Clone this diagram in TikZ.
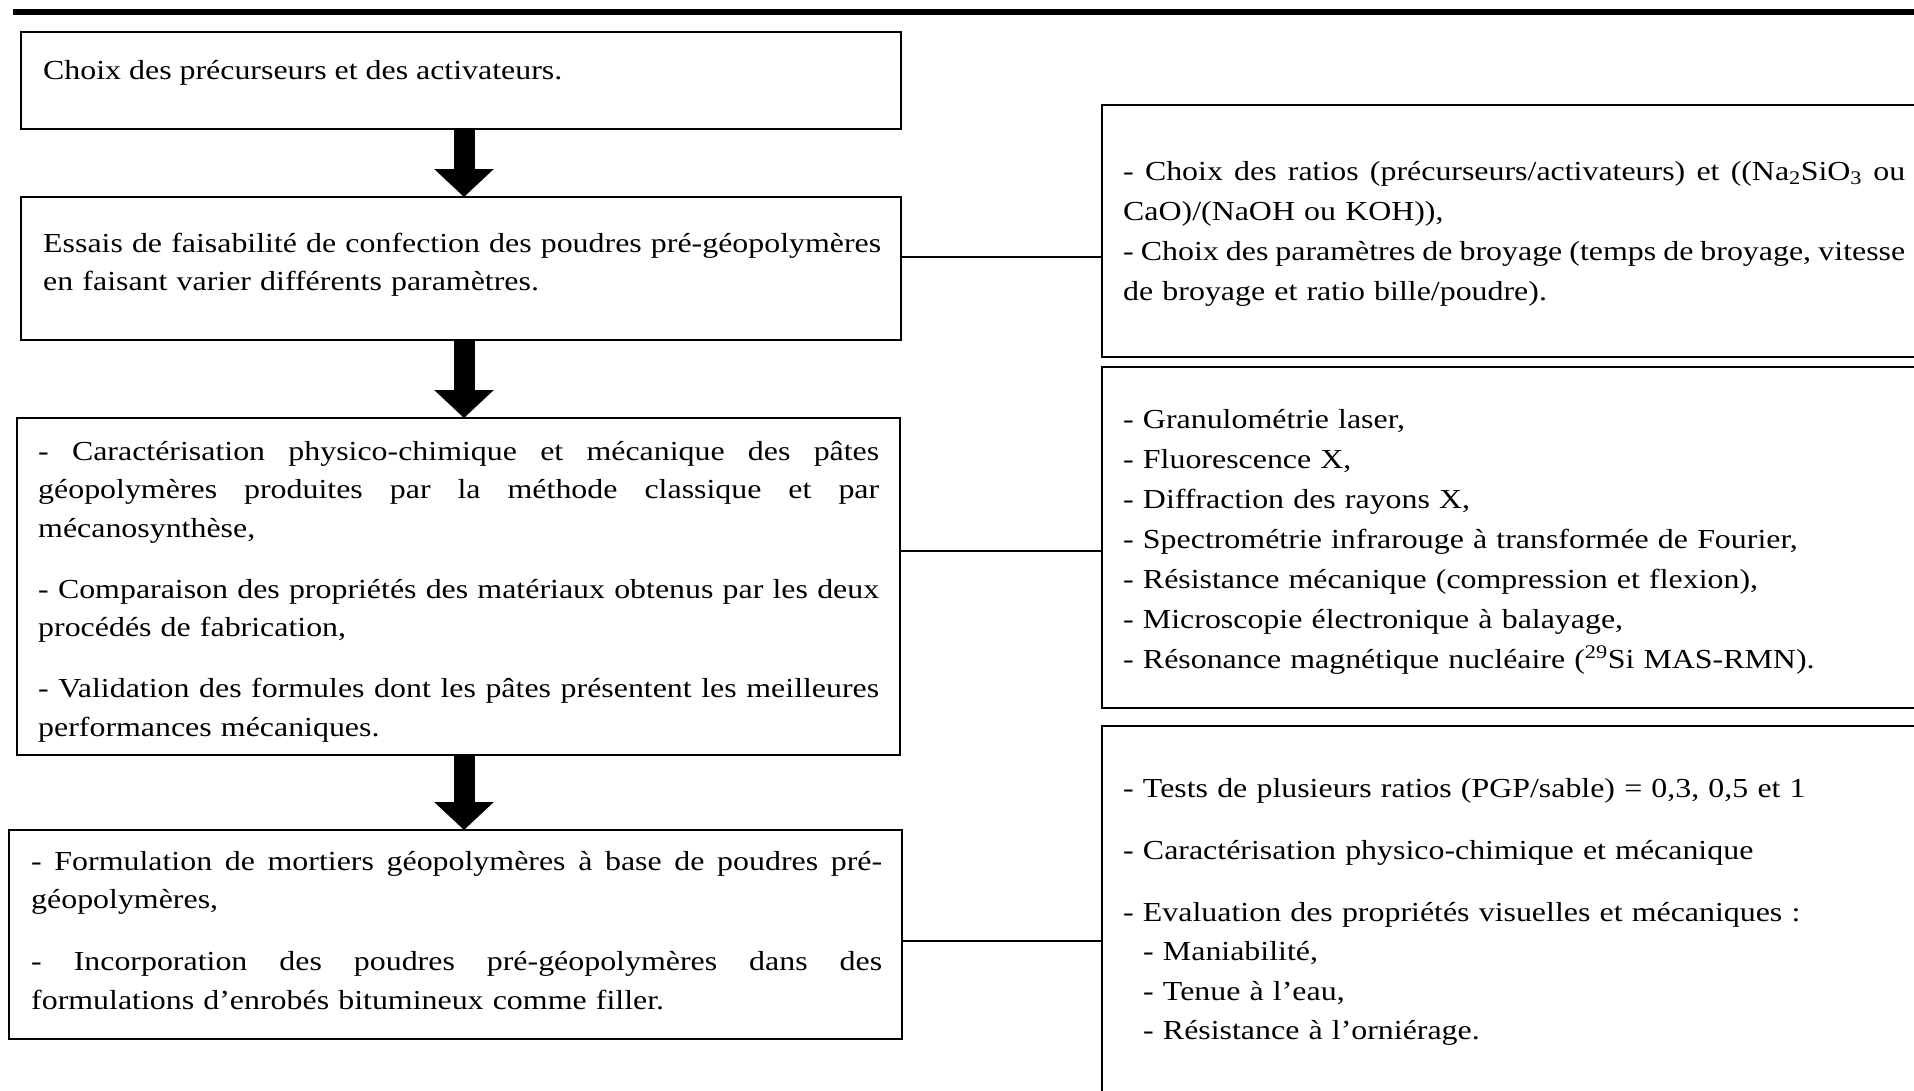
\documentclass[tikz,border=0pt]{standalone}
\usepackage{fontspec}
\setmainfont[FakeStretch=1.16]{Liberation Serif}
\usetikzlibrary{arrows.meta}
\tikzset{
    %Define style for boxes
    boite/.style={
           rectangle,
           draw=black, line width=2.6pt,
           inner sep=0pt, outer sep=0pt,
           anchor=north west},
    %Define style for box texts
    texte/.style={
           anchor=base west,
           inner sep=0pt,
           align=left,
           font=\fontsize{27.5}{38.7}\selectfont},
    liste/.style={
           texte,
           text width=782pt,
           font=\fontsize{27.5}{40}\selectfont},
    % Define arrow styles
    fleche/.style={
           -{Triangle[width=58pt,length=28pt]},
           line width=21pt},
    liaison/.style={
           line width=2.4pt}
}
% justified line
\newcommand{\pleine}[1]{\leavevmode\hbox to\hsize{\spaceskip=0pt\xspaceskip=0pt #1}}

\begin{document}
\begin{tikzpicture}[x=1pt, y=-1pt]
         \clip (0,0) rectangle (1914,1090);
         \draw[line width=6pt] (13,12) -- (1914,12);
         %boxes
          \node[boite, minimum width=880pt, minimum height=97pt] (choix) at (21,32) {};
          \node[boite, minimum width=880pt, minimum height=143pt] (essais) at (21,197) {};
          \node[boite, minimum width=883pt, minimum height=337pt] (caract) at (17,418) {};
          \node[boite, minimum width=893pt, minimum height=209pt] (formul) at (9,830) {};
          \node[boite, minimum width=840pt, minimum height=252pt] (ratios) at (1102,105) {};
          \node[boite, minimum width=840pt, minimum height=341pt] (analyses) at (1102,367) {};
          \node[boite, minimum width=840pt, minimum height=390pt] (mortiers) at (1102,726) {};
         %texts
          \node[texte] (t-choix) at ([shift={(22,47)}]choix.north west)
          {Choix des précurseurs et des activateurs.};
          \node[texte, text width=838pt] (t-essais) at ([shift={(22,55)}]essais.north west)
          {\pleine{Essais de faisabilité de confection des poudres pré-géopolymères}\\
           en faisant varier différents paramètres.};
          \node[texte, text width=841pt] (t-caract) at ([shift={(21,42)}]caract.north west)
          {\pleine{- Caractérisation physico-chimique et mécanique des pâtes}\\
           \pleine{géopolymères produites par la méthode classique et par}\\
           mécanosynthèse,\\[22pt]
           \pleine{- Comparaison des propriétés des matériaux obtenus par les deux}\\
           procédés de fabrication,\\[22pt]
           \pleine{- Validation des formules dont les pâtes présentent les meilleures}\\
           performances mécaniques.};
          \node[texte, text width=851pt] (t-formul) at ([shift={(22,40)}]formul.north west)
          {\pleine{- Formulation de mortiers géopolymères à base de poudres pré-}\\
           géopolymères,\\[23pt]
           \pleine{- Incorporation des poudres pré-géopolymères dans des}\\
           formulations d’enrobés bitumineux comme filler.};
          \node[texte, text width=782pt] (t-ratios) at ([shift={(21,75)}]ratios.north west)
          {\pleine{- Choix des ratios (précurseurs/activateurs) et ((Na\textsubscript{2}SiO\textsubscript{3} ou}\\[1.5pt]
           CaO)/(NaOH ou KOH)),\\[1.5pt]
           \pleine{- Choix des paramètres de broyage (temps de broyage, vitesse}\\[1.5pt]
           de broyage et ratio bille/poudre).};
          \node[liste] (t-analyses) at ([shift={(21,61)}]analyses.north west)
          {- Granulométrie laser,\\
           - Fluorescence X,\\
           - Diffraction des rayons X,\\
           - Spectrométrie infrarouge à transformée de Fourier,\\
           - Résistance mécanique (compression et flexion),\\
           - Microscopie électronique à balayage,\\
           - Résonance magnétique nucléaire (\textsuperscript{29}Si MAS-RMN).};
          \node[liste, font=\fontsize{27.5}{39.5}\selectfont] (t-mortiers) at ([shift={(21,71)}]mortiers.north west)
          {- Tests de plusieurs ratios (PGP/sable) = 0,3, 0,5 et 1\\[22.5pt]
           - Caractérisation physico-chimique et mécanique\\[22.5pt]
           - Evaluation des propriétés visuelles et mécaniques :\\
           \hspace*{20pt}- Maniabilité,\\
           \hspace*{20pt}- Tenue à l’eau,\\
           \hspace*{20pt}- Résistance à l’orniérage.};
         %arrows
          \coordinate (axe) at (464,0);
          \draw[fleche] (choix.south -| axe) -- (essais.north -| axe);
          \draw[fleche] (essais.south -| axe) -- (caract.north -| axe);
          \draw[fleche] (caract.south -| axe) -- (formul.north -| axe);
         %links
          \coordinate (l1) at (0,257);
          \coordinate (l2) at (0,551);
          \coordinate (l3) at (0,941);
          \draw[liaison] (essais.east |- l1) -- (ratios.west |- l1);
          \draw[liaison] (caract.east |- l2) -- (analyses.west |- l2);
          \draw[liaison] (formul.east |- l3) -- (mortiers.west |- l3);
\end{tikzpicture}
\end{document}
